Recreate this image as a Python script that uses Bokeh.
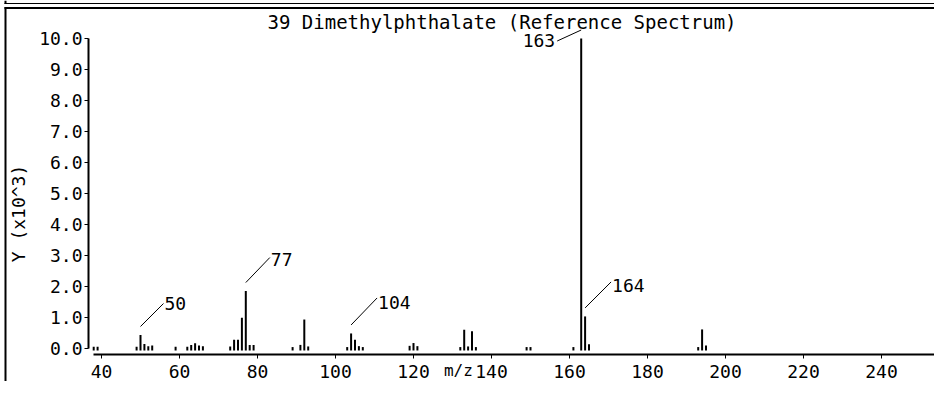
import math
from bokeh.plotting import figure
from bokeh.models import Range1d, FixedTicker, Label, ColumnDataSource, PolyAnnotation
from bokeh.embed import file_html
from bokeh.resources import INLINE

# ---------------- data ----------------
title_text = "39 Dimethylphthalate (Reference Spectrum)"
x_label = "m/z"
y_label = "Y (x10^3)"

mz = [38, 39, 49, 50, 51, 52, 53, 59, 62, 63, 64, 65, 66,
      73, 74, 75, 76, 77, 78, 79, 89, 91, 92, 93,
      103, 104, 105, 106, 107, 119, 120, 121,
      132, 133, 134, 135, 136, 149, 150, 161,
      163, 164, 165, 193, 194, 195]
intensity = [0.04, 0.04, 0.04, 0.42, 0.13, 0.06, 0.08, 0.04, 0.04, 0.10, 0.15, 0.08, 0.06,
             0.05, 0.27, 0.27, 0.98, 1.84, 0.10, 0.10, 0.03, 0.10, 0.92, 0.05,
             0.03, 0.47, 0.27, 0.06, 0.03, 0.07, 0.16, 0.06,
             0.03, 0.59, 0.05, 0.54, 0.03, 0.03, 0.03, 0.03,
             10.0, 1.02, 0.12, 0.03, 0.60, 0.08]

label_mz = [50, 77, 104, 163, 164]

x_ticks = [40, 60, 80, 100, 120, 140, 160, 180, 200, 220, 240]
x_tick_labels = ["40", "60", "80", "100", "120", "140", "160", "180", "200", "220", "240"]
y_ticks = [0, 1, 2, 3, 4, 5, 6, 7, 8, 9, 10]
y_tick_labels = ["0.0", "1.0", "2.0", "3.0", "4.0", "5.0", "6.0", "7.0", "8.0", "9.0", "10.0"]

# ---------------- layout / style ----------------
W, H = 934, 381
PX = 3.9      # px per m/z unit
PY = 30.95    # px per 1000 counts
X_START = 40 - 101 / PX
X_END = X_START + W / PX
Y_END = 347.5 / PY
Y_START = Y_END - H / PY
Y_AXIS_AT = 40 - 13 / PX
X_AXIS_AT = -6.8 / PY
BASE = -0.08
FONT = "DejaVu Sans Mono"

# leader line offsets (screen px) per label
leader_dx = [23, 24, 26, -24, 26]
leader_dy = [23, 25, 27, -11, 26]
text_dx = [1, 1, 1, -2, 1]
text_dy = [0, -2, -5, 1, -4]

p = figure(width=W, height=H, x_range=Range1d(X_START, X_END), y_range=Range1d(Y_START, Y_END),
           output_backend="svg", toolbar_location=None,
           min_border_left=0, min_border_right=0, min_border_top=0, min_border_bottom=0)
p.title.visible = False
p.grid.visible = False
p.outline_line_color = None
p.background_fill_color = "white"
p.border_fill_color = "white"

for ax in (p.xaxis[0], p.yaxis[0]):
    ax.axis_line_width = 2
    ax.axis_line_color = "black"
    ax.major_tick_in = 0
    ax.major_tick_out = 4
    ax.major_tick_line_width = 1
    ax.major_tick_line_color = "black"
    ax.minor_tick_line_color = None
    ax.major_label_text_font = FONT
    ax.major_label_text_font_size = "18px"
    ax.major_label_text_color = "black"

p.xaxis.ticker = FixedTicker(ticks=x_ticks)
p.xaxis.major_label_overrides = {t: s for t, s in zip(x_ticks, x_tick_labels)}
p.xaxis.bounds = (37.95, X_END)
p.xaxis.major_label_standoff = 6
p.xaxis.fixed_location = X_AXIS_AT

p.yaxis.ticker = FixedTicker(ticks=y_ticks)
p.yaxis.major_label_overrides = {t: s for t, s in zip(y_ticks, y_tick_labels)}
p.yaxis.bounds = (0, 10)
p.yaxis.major_label_standoff = 2
p.yaxis.fixed_location = Y_AXIS_AT

src = ColumnDataSource(dict(mz=mz, intensity=intensity))
p.segment(x0="mz", y0=BASE, x1="mz", y1="intensity", source=src, line_width=2, line_color="black")

# peak labels with leader lines
x0s, y0s, x1s, y1s = [], [], [], []
for i, m in enumerate(label_mz):
    h = intensity[mz.index(m)]
    sx, sy = m, h + 8.5 / PY
    ex, ey = m + leader_dx[i] / PX, sy + leader_dy[i] / PY
    x0s.append(sx); y0s.append(sy); x1s.append(ex); y1s.append(ey)
    p.add_layout(Label(x=ex + text_dx[i] / PX, y=ey + text_dy[i] / PY, text=str(m),
                       text_align="left" if leader_dx[i] > 0 else "right",
                       text_baseline="middle", text_font=FONT, text_font_size="18px",
                       text_color="black"))
p.segment(x0=x0s, y0=y0s, x1=x1s, y1=y1s, line_width=1, line_color="black")

# title, axis labels
p.add_layout(Label(x=142.7, y=10.54, text=title_text, text_align="center",
                   text_baseline="middle", text_font=FONT, text_font_size="19px",
                   text_color="black"))
p.add_layout(Label(x=131.5, y=-1.05, text=x_label, text_align="center",
                   text_baseline="bottom", text_font=FONT, text_font_size="16px",
                   text_color="black"))
p.add_layout(Label(x=18.72, y=4.346, text=y_label, angle=math.pi / 2, text_align="center",
                   text_baseline="middle", text_font=FONT, text_font_size="18px",
                   text_color="black"))

# box lines of the page (canvas pixels, origin top-left)
def box(x0, x1, y0, y1):
    p.add_layout(PolyAnnotation(xs=[x0, x1, x1, x0], ys=[y0, y0, y1, y1],
                                xs_units="canvas", ys_units="canvas",
                                fill_color="black", fill_alpha=1, line_color=None))

box(4, 6, 0, 3.5)
box(4, W, 2.5, 3.5)
box(4, W, 6.5, 8.5)
box(4, 6, 6.5, H)

open("out.html", "w").write(file_html(p, INLINE))
